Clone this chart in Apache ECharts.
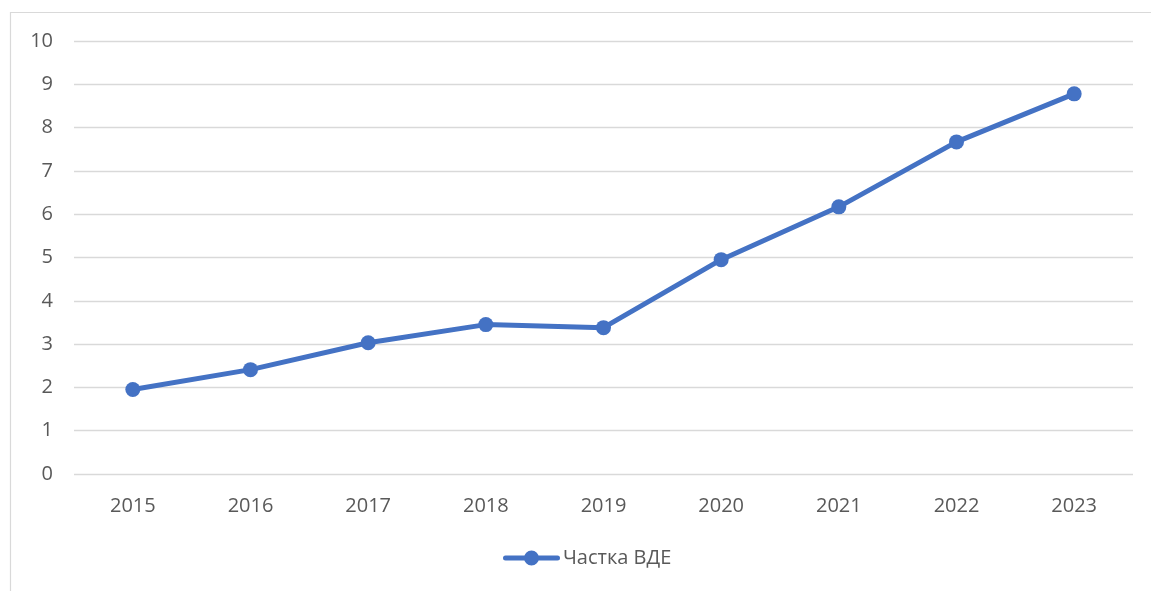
<!DOCTYPE html>
<html>
<head>
<meta charset="utf-8">
<style>
  html, body { margin: 0; padding: 0; background: #fff; }
  #chart { width: 1151px; height: 591px; }
</style>
<script src="https://cdn.jsdelivr.net/npm/echarts@6/dist/echarts.min.js"></script>
</head>
<body>
<div id="chart"></div>
<script>
  // Share of renewable energy sources by year
  const years = ['2015', '2016', '2017', '2018', '2019', '2020', '2021', '2022', '2023'];
  const shareValues = [1.95, 2.41, 3.03, 3.45, 3.38, 4.95, 6.17, 7.67, 8.78];
  const seriesName = 'Частка ВДЕ';

  const textColor = '#595959';
  const gridColor = '#d9d9d9';
  const lineColor = '#4472C4';
  const fontFamily = '"Open Sans", "Noto Sans", sans-serif';

  // Legend marker: thick rounded line with a dot in the middle
  const legendIcon = 'path://M2.5,5 L54.5,5 A2.5,2.5 0 0,1 54.5,10 L2.5,10 A2.5,2.5 0 0,1 2.5,5 Z ' +
    'M21,7.5 A7.5,7.5 0 1,1 36,7.5 A7.5,7.5 0 1,1 21,7.5 Z';

  const chart = echarts.init(document.getElementById('chart'), null, { renderer: 'canvas' });
  chart.setOption({
    animation: false,
    backgroundColor: '#fff',
    textStyle: { fontFamily: fontFamily },
    graphic: [{
      type: 'rect',
      shape: { x: 10.5, y: 12.5, width: 1300, height: 700 },
      style: { fill: 'none', stroke: gridColor, lineWidth: 1.2 },
      silent: true
    }],
    grid: { left: 74, right: 18, top: 41, bottom: 117, containLabel: false },
    legend: {
      data: [{ name: seriesName, icon: legendIcon }],
      top: 543,
      left: 498,
      itemWidth: 57,
      itemHeight: 15,
      itemGap: 10,
      textStyle: { color: textColor, fontSize: 20, fontFamily: fontFamily, padding: [0, 0, 0, -2] }
    },
    xAxis: {
      type: 'category',
      data: years,
      boundaryGap: true,
      axisLine: { show: false },
      axisTick: { show: false },
      axisLabel: { color: textColor, fontSize: 20, margin: 22, fontFamily: fontFamily }
    },
    yAxis: {
      type: 'value',
      min: 0,
      max: 10,
      interval: 1,
      axisLine: { show: false },
      axisTick: { show: false },
      axisLabel: { color: textColor, fontSize: 20, margin: 21, fontFamily: fontFamily },
      splitLine: { lineStyle: { color: gridColor, width: 1.3 } }
    },
    series: [{
      name: seriesName,
      type: 'line',
      data: shareValues,
      symbol: 'circle',
      symbolSize: 15,
      lineStyle: { color: lineColor, width: 5 },
      itemStyle: { color: lineColor }
    }]
  });
</script>
</body>
</html>
